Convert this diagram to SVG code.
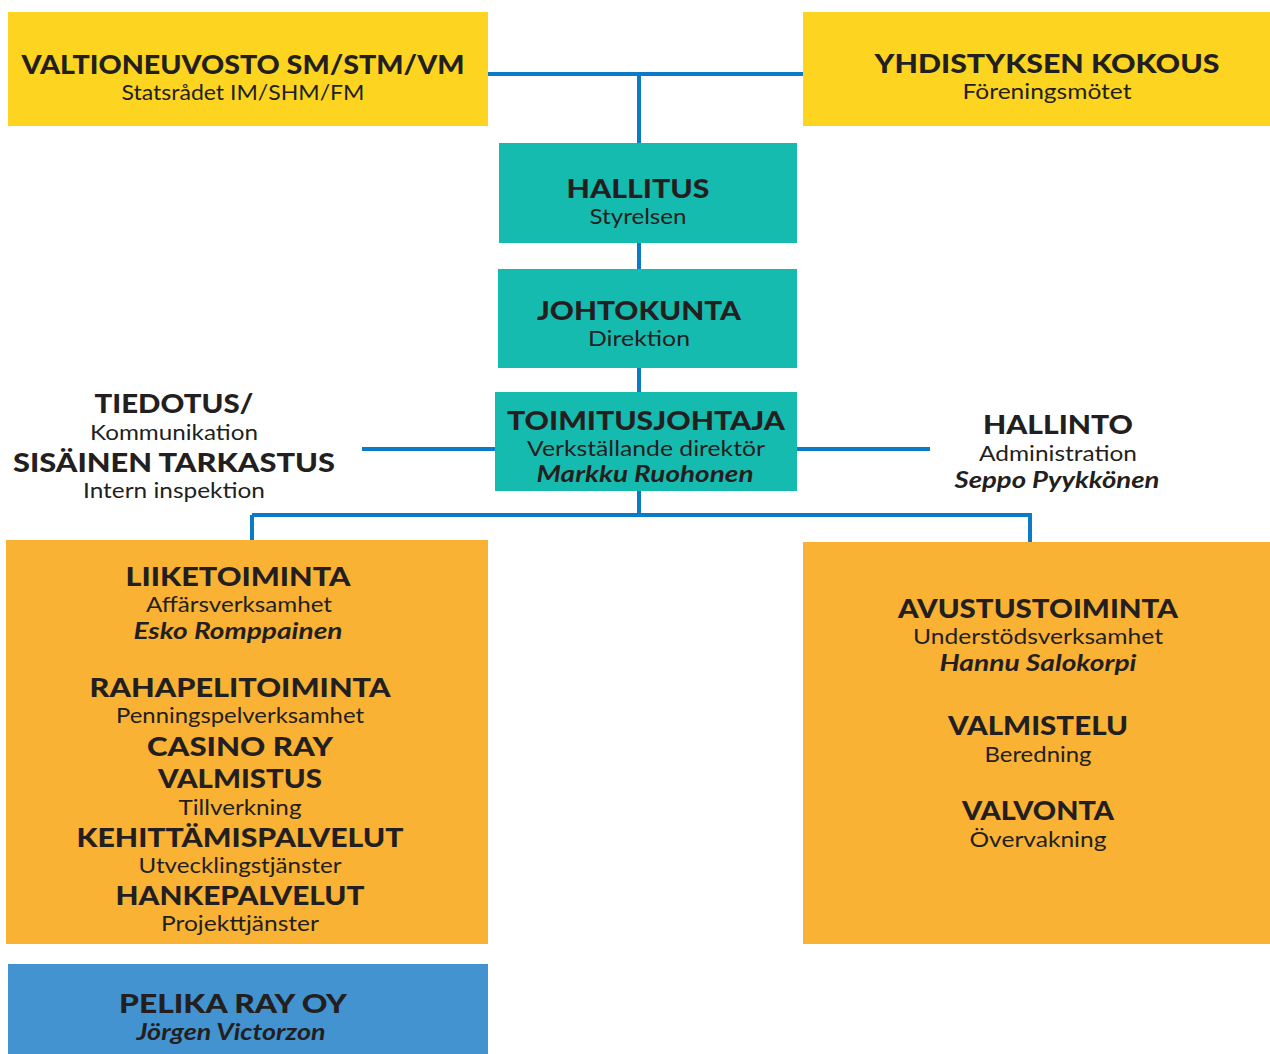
<svg xmlns="http://www.w3.org/2000/svg" width="1270" height="1054" viewBox="0 0 1270 1054">
<style>
text{font-family:Lato,"Open Sans","Liberation Sans",sans-serif;fill:#231f20;text-anchor:middle}
.t{font-size:27px;font-weight:900}
.s{font-size:22px;font-weight:400}
.n{font-size:22px;font-weight:700;font-style:italic}
.c{stroke:#0a7bc6;stroke-width:4;fill:none}
.yel{fill:#fdd520}.teal{fill:#16bbb0}.org{fill:#f9b233}.blu{fill:#4293d0}
</style>
<rect width="1270" height="1054" fill="#fff"/>
<g id="connectors">
<path class="c" d="M488 74H803M639 74V143M639 243V269M639 368V392M639 491V515M252 515H1032M252 515V540M1030 515V542M362 449H495M797 449H930"/>
</g>
<g id="valtioneuvosto">
<rect class="yel" x="8" y="12" width="480" height="114"/>
<text class="t" x="243" y="74" textLength="443" lengthAdjust="spacingAndGlyphs">VALTIONEUVOSTO SM/STM/VM</text>
<text class="s" x="243" y="100" textLength="243" lengthAdjust="spacingAndGlyphs">Statsrådet IM/SHM/FM</text>
</g>
<g id="yhdistyksen">
<rect class="yel" x="803" y="12" width="467" height="114"/>
<text class="t" x="1047" y="73" textLength="345" lengthAdjust="spacingAndGlyphs">YHDISTYKSEN KOKOUS</text>
<text class="s" x="1047" y="99" textLength="169" lengthAdjust="spacingAndGlyphs">Föreningsmötet</text>
</g>
<g id="hallitus">
<rect class="teal" x="499" y="143" width="298" height="100"/>
<text class="t" x="638" y="198" textLength="143" lengthAdjust="spacingAndGlyphs">HALLITUS</text>
<text class="s" x="638" y="224" textLength="97" lengthAdjust="spacingAndGlyphs">Styrelsen</text>
</g>
<g id="johtokunta">
<rect class="teal" x="498" y="269" width="299" height="99"/>
<text class="t" x="639" y="320" textLength="204" lengthAdjust="spacingAndGlyphs">JOHTOKUNTA</text>
<text class="s" x="639" y="346" textLength="102" lengthAdjust="spacingAndGlyphs">Direktion</text>
</g>
<g id="toimitusjohtaja">
<rect class="teal" x="495" y="392" width="302" height="99"/>
<text class="t" x="646" y="430" textLength="278" lengthAdjust="spacingAndGlyphs">TOIMITUSJOHTAJA</text>
<text class="s" x="646" y="456" textLength="238" lengthAdjust="spacingAndGlyphs">Verkställande direktör</text>
<text class="n" x="645" y="482" textLength="217" lengthAdjust="spacingAndGlyphs">Markku Ruohonen</text>
</g>
<g id="tiedotus">
<text class="t" x="174" y="413" textLength="159" lengthAdjust="spacingAndGlyphs">TIEDOTUS/</text>
<text class="s" x="174" y="440" textLength="168" lengthAdjust="spacingAndGlyphs">Kommunikation</text>
<text class="t" x="174" y="472" textLength="322" lengthAdjust="spacingAndGlyphs">SISÄINEN TARKASTUS</text>
<text class="s" x="174" y="498" textLength="182" lengthAdjust="spacingAndGlyphs">Intern inspektion</text>
</g>
<g id="hallinto">
<text class="t" x="1058" y="434" textLength="150" lengthAdjust="spacingAndGlyphs">HALLINTO</text>
<text class="s" x="1058" y="461" textLength="158" lengthAdjust="spacingAndGlyphs">Administration</text>
<text class="n" x="1057" y="488" textLength="205" lengthAdjust="spacingAndGlyphs">Seppo Pyykkönen</text>
</g>
<g id="liiketoiminta">
<rect class="org" x="6" y="540" width="482" height="404"/>
<text class="t" x="238" y="586" textLength="225" lengthAdjust="spacingAndGlyphs">LIIKETOIMINTA</text>
<text class="s" x="239" y="612" textLength="186" lengthAdjust="spacingAndGlyphs">Affärsverksamhet</text>
<text class="n" x="238" y="639" textLength="209" lengthAdjust="spacingAndGlyphs">Esko Romppainen</text>
<text class="t" x="240" y="697" textLength="301" lengthAdjust="spacingAndGlyphs">RAHAPELITOIMINTA</text>
<text class="s" x="240" y="723" textLength="248" lengthAdjust="spacingAndGlyphs">Penningspelverksamhet</text>
<text class="t" x="240" y="756" textLength="186" lengthAdjust="spacingAndGlyphs">CASINO RAY</text>
<text class="t" x="240" y="788" textLength="164" lengthAdjust="spacingAndGlyphs">VALMISTUS</text>
<text class="s" x="240" y="815" textLength="123" lengthAdjust="spacingAndGlyphs">Tillverkning</text>
<text class="t" x="240" y="847" textLength="327" lengthAdjust="spacingAndGlyphs">KEHITTÄMISPALVELUT</text>
<text class="s" x="240" y="873" textLength="203" lengthAdjust="spacingAndGlyphs">Utvecklingstjänster</text>
<text class="t" x="240" y="905" textLength="249" lengthAdjust="spacingAndGlyphs">HANKEPALVELUT</text>
<text class="s" x="240" y="931" textLength="158" lengthAdjust="spacingAndGlyphs">Projekttjänster</text>
</g>
<g id="avustustoiminta">
<rect class="org" x="803" y="542" width="467" height="402"/>
<text class="t" x="1038" y="618" textLength="280" lengthAdjust="spacingAndGlyphs">AVUSTUSTOIMINTA</text>
<text class="s" x="1038" y="644" textLength="250" lengthAdjust="spacingAndGlyphs">Understödsverksamhet</text>
<text class="n" x="1038" y="671" textLength="197" lengthAdjust="spacingAndGlyphs">Hannu Salokorpi</text>
<text class="t" x="1038" y="735" textLength="180" lengthAdjust="spacingAndGlyphs">VALMISTELU</text>
<text class="s" x="1038" y="762" textLength="107" lengthAdjust="spacingAndGlyphs">Beredning</text>
<text class="t" x="1038" y="820" textLength="152" lengthAdjust="spacingAndGlyphs">VALVONTA</text>
<text class="s" x="1038" y="847" textLength="137" lengthAdjust="spacingAndGlyphs">Övervakning</text>
</g>
<g id="pelika">
<rect class="blu" x="8" y="964" width="480" height="90"/>
<text class="t" x="233" y="1013" textLength="228" lengthAdjust="spacingAndGlyphs">PELIKA RAY OY</text>
<text class="n" x="231" y="1040" textLength="189" lengthAdjust="spacingAndGlyphs">Jörgen Victorzon</text>
</g>
</svg>
